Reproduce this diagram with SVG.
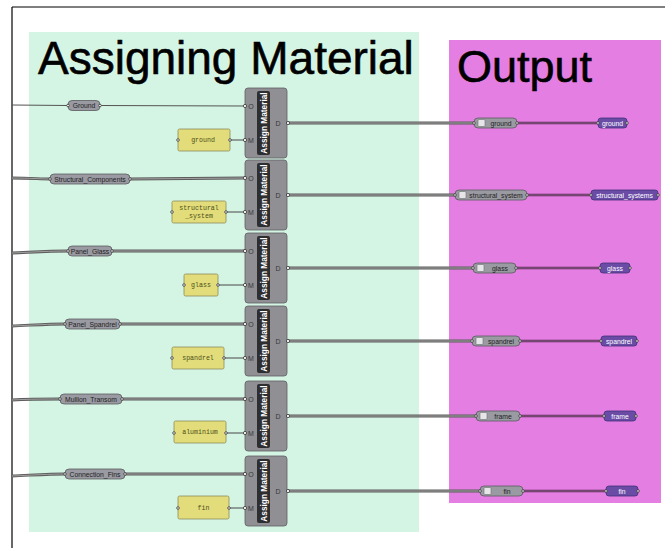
<svg xmlns="http://www.w3.org/2000/svg" width="665" height="548" viewBox="0 0 665 548">
<style>
.frame{stroke:#000;stroke-width:1.2;fill:none}
.title{font-family:"Liberation Sans",Arial,sans-serif;fill:#000;stroke:#000;stroke-width:0.6}
.comp{fill:#8f8f94;stroke:#5e5e62;stroke-width:0.8}
.strip{fill:#2e2e30}
.ctext{font-family:"Liberation Sans",Arial,sans-serif;font-size:8.3px;font-weight:bold;fill:#fff;text-anchor:middle}
.plabel{font-family:"Liberation Sans",Arial,sans-serif;font-size:7px;fill:#3a3a3a;text-anchor:middle}
.pill{fill:#9a9aa2;stroke:#5a5a60;stroke-width:0.8}
.ptext{font-family:"Liberation Sans",Arial,sans-serif;font-size:6.8px;fill:#1e1e1e;text-anchor:middle}
.panel{fill:#e2dd7a;stroke:#8e8c5a;stroke-width:0.8}
.ytext{font-family:"Liberation Mono","DejaVu Sans Mono",monospace;font-size:6.6px;fill:#4e4e1a;text-anchor:middle}
.purp{fill:#6a4ba6;stroke:#43307a;stroke-width:0.8}
.wtext{font-family:"Liberation Sans",Arial,sans-serif;font-size:6.8px;fill:#fff;text-anchor:middle}
.icon{fill:#e6e6e8;stroke:#707074;stroke-width:0.6}
.port{fill:#fff;stroke:#333;stroke-width:0.8}
.w1{fill:none;stroke:#555;stroke-width:1.1}
.wo{fill:none;stroke:#5c5c5c;stroke-width:2.8}
.wi{fill:none;stroke:#a8a8a8;stroke-width:0.9}
.po{fill:none;stroke:#5e2f5a;stroke-width:2.6}
.pi{fill:none;stroke:#9a6a96;stroke-width:0.8}
</style>
<defs>
<g id="amcomp">
<rect class="comp" x="245" y="0" width="42" height="70" rx="3"/>
<rect class="strip" x="257" y="3" width="13" height="64" rx="2"/>
<text class="ctext" transform="translate(266.5,35) rotate(-90)">Assign Material</text>
<text class="plabel" x="251" y="20.5">O</text>
<text class="plabel" x="251" y="54.5">M</text>
<text class="plabel" x="278" y="37.5">D</text>
<circle class="port" cx="245" cy="18" r="1.6"/>
<circle class="port" cx="245" cy="52" r="1.6"/>
<circle class="port" cx="288" cy="35" r="1.6"/>
</g>
</defs>
<rect x="29" y="32" width="390" height="500" fill="#d4f5e4"/>
<rect x="449" y="40" width="212" height="463" fill="#e47ee2"/>
<line class="frame" x1="12" y1="7" x2="665" y2="7"/>
<line class="frame" x1="12" y1="7" x2="12" y2="548"/>
<text class="title" x="38" y="74" font-size="46">Assigning Material</text>
<text class="title" x="457" y="82" font-size="45">Output</text>

<g id="connectors">
<!-- row 1 -->
<path class="w1" d="M12,105 L68,105.5"/>
<path class="w1" d="M100,105.5 L245,106"/>
<path class="w1" d="M230,140 L245,140"/>
<path class="wo" d="M288,123 L474,123"/><path class="wi" d="M288,123 L474,123"/>
<path class="po" d="M517,123 L598,123"/><path class="pi" d="M517,123 L598,123"/>
<!-- row 2 -->
<path class="wo" d="M12,178 C30,178 40,179 50,179"/><path class="wi" d="M12,178 C30,178 40,179 50,179"/>
<path class="wo" d="M130,179 L245,178"/><path class="wi" d="M130,179 L245,178"/>
<path class="w1" d="M226,212 L245,212"/>
<path class="wo" d="M288,195 L455,195"/><path class="wi" d="M288,195 L455,195"/>
<path class="po" d="M527,195 L591,195"/><path class="pi" d="M527,195 L591,195"/>
<!-- row 3 -->
<path class="wo" d="M12,253 C35,252 50,251 68,251"/><path class="wi" d="M12,253 C35,252 50,251 68,251"/>
<path class="wo" d="M112,251 L245,251"/><path class="wi" d="M112,251 L245,251"/>
<path class="w1" d="M218,285 L245,285"/>
<path class="wo" d="M288,268 L473,268"/><path class="wi" d="M288,268 L473,268"/>
<path class="po" d="M516,268 L600,268"/><path class="pi" d="M516,268 L600,268"/>
<!-- row 4 -->
<path class="wo" d="M12,326 C35,325 50,324 65,324"/><path class="wi" d="M12,326 C35,325 50,324 65,324"/>
<path class="wo" d="M120,324 L245,324"/><path class="wi" d="M120,324 L245,324"/>
<path class="w1" d="M224,358 L245,358"/>
<path class="wo" d="M288,341 L472,341"/><path class="wi" d="M288,341 L472,341"/>
<path class="po" d="M520,341 L601,341"/><path class="pi" d="M520,341 L601,341"/>
<!-- row 5 -->
<path class="wo" d="M12,400 C30,399 45,399 60,399"/><path class="wi" d="M12,400 C30,399 45,399 60,399"/>
<path class="wo" d="M122,399 L245,399"/><path class="wi" d="M122,399 L245,399"/>
<path class="w1" d="M226,433 L245,433"/>
<path class="wo" d="M288,416 L476,416"/><path class="wi" d="M288,416 L476,416"/>
<path class="po" d="M520,416 L604,416"/><path class="pi" d="M520,416 L604,416"/>
<!-- row 6 -->
<path class="wo" d="M12,476 C35,475 50,474 65,474"/><path class="wi" d="M12,476 C35,475 50,474 65,474"/>
<path class="wo" d="M125,474 L245,474"/><path class="wi" d="M125,474 L245,474"/>
<path class="w1" d="M229,508 L245,508"/>
<path class="wo" d="M288,491 L480,491"/><path class="wi" d="M288,491 L480,491"/>
<path class="po" d="M523,491 L606,491"/><path class="pi" d="M523,491 L606,491"/>
</g>

<!-- Row 1 -->
<g id="param-ground"><rect class="pill" x="68" y="100.5" width="32" height="10" rx="4"/><text class="ptext" x="84" y="108">Ground</text><circle class="port" cx="68" cy="105.5" r="1.3"/><circle class="port" cx="100" cy="105.5" r="1.3"/></g>
<g id="panel-ground"><rect class="panel" x="178" y="129" width="52" height="22" rx="1.5"/><text class="ytext" x="203" y="142">ground</text><circle class="port" cx="178" cy="140" r="1.3"/><circle class="port" cx="230" cy="140" r="1.3"/></g>
<g id="assign-1"><use href="#amcomp" transform="translate(0,88)"/></g>
<g id="out-ground"><rect class="pill" x="474" y="118" width="43" height="10" rx="4"/><rect class="icon" x="478" y="119.5" width="7" height="7" rx="1"/><text class="ptext" x="501" y="125.5">ground</text><circle class="port" cx="474" cy="123" r="1.3"/><circle class="port" cx="517" cy="123" r="1.3"/></g>
<g id="res-ground"><rect class="purp" x="598" y="118" width="29" height="10" rx="3"/><text class="wtext" x="612.5" y="125.5">ground</text><circle class="port" cx="598" cy="123" r="1.3"/><circle class="port" cx="627" cy="123" r="1.3"/></g>

<!-- Row 2 -->
<g id="param-structural"><rect class="pill" x="50" y="174" width="80" height="10" rx="4"/><text class="ptext" x="90" y="181.5">Structural_Components</text><circle class="port" cx="50" cy="179" r="1.3"/><circle class="port" cx="130" cy="179" r="1.3"/></g>
<g id="panel-structural"><rect class="panel" x="172" y="201" width="54" height="22" rx="1.5"/><text class="ytext" x="199" y="209.5">structural</text><text class="ytext" x="199" y="217.5">_system</text><circle class="port" cx="172" cy="212" r="1.3"/><circle class="port" cx="226" cy="212" r="1.3"/></g>
<g id="assign-2"><use href="#amcomp" transform="translate(0,160)"/></g>
<g id="out-structural"><rect class="pill" x="455" y="190" width="72" height="10" rx="4"/><rect class="icon" x="459" y="191.5" width="7" height="7" rx="1"/><text class="ptext" x="496" y="197.5">structural_system</text><circle class="port" cx="455" cy="195" r="1.3"/><circle class="port" cx="527" cy="195" r="1.3"/></g>
<g id="res-structural"><rect class="purp" x="591" y="190" width="67" height="10" rx="3"/><text class="wtext" x="624.5" y="197.5">structural_systems</text><circle class="port" cx="591" cy="195" r="1.3"/><circle class="port" cx="658" cy="195" r="1.3"/></g>

<!-- Row 3 -->
<g id="param-glass"><rect class="pill" x="68" y="246" width="44" height="10" rx="4"/><text class="ptext" x="90" y="253.5">Panel_Glass</text><circle class="port" cx="68" cy="251" r="1.3"/><circle class="port" cx="112" cy="251" r="1.3"/></g>
<g id="panel-glass"><rect class="panel" x="184" y="274" width="34" height="22" rx="1.5"/><text class="ytext" x="201" y="287">glass</text><circle class="port" cx="184" cy="285" r="1.3"/><circle class="port" cx="218" cy="285" r="1.3"/></g>
<g id="assign-3"><use href="#amcomp" transform="translate(0,233)"/></g>
<g id="out-glass"><rect class="pill" x="473" y="263" width="43" height="10" rx="4"/><rect class="icon" x="477" y="264.5" width="7" height="7" rx="1"/><text class="ptext" x="500" y="270.5">glass</text><circle class="port" cx="473" cy="268" r="1.3"/><circle class="port" cx="516" cy="268" r="1.3"/></g>
<g id="res-glass"><rect class="purp" x="600" y="263" width="30" height="10" rx="3"/><text class="wtext" x="615" y="270.5">glass</text><circle class="port" cx="600" cy="268" r="1.3"/><circle class="port" cx="630" cy="268" r="1.3"/></g>

<!-- Row 4 -->
<g id="param-spandrel"><rect class="pill" x="65" y="319" width="55" height="10" rx="4"/><text class="ptext" x="92.5" y="326.5">Panel_Spandrel</text><circle class="port" cx="65" cy="324" r="1.3"/><circle class="port" cx="120" cy="324" r="1.3"/></g>
<g id="panel-spandrel"><rect class="panel" x="172" y="347" width="52" height="22" rx="1.5"/><text class="ytext" x="198" y="360">spandrel</text><circle class="port" cx="172" cy="358" r="1.3"/><circle class="port" cx="224" cy="358" r="1.3"/></g>
<g id="assign-4"><use href="#amcomp" transform="translate(0,306)"/></g>
<g id="out-spandrel"><rect class="pill" x="472" y="336" width="48" height="10" rx="4"/><rect class="icon" x="476" y="337.5" width="7" height="7" rx="1"/><text class="ptext" x="501" y="343.5">spandrel</text><circle class="port" cx="472" cy="341" r="1.3"/><circle class="port" cx="520" cy="341" r="1.3"/></g>
<g id="res-spandrel"><rect class="purp" x="601" y="336" width="36" height="10" rx="3"/><text class="wtext" x="619" y="343.5">spandrel</text><circle class="port" cx="601" cy="341" r="1.3"/><circle class="port" cx="637" cy="341" r="1.3"/></g>

<!-- Row 5 -->
<g id="param-mullion"><rect class="pill" x="60" y="394" width="62" height="10" rx="4"/><text class="ptext" x="91" y="401.5">Mullion_Transom</text><circle class="port" cx="60" cy="399" r="1.3"/><circle class="port" cx="122" cy="399" r="1.3"/></g>
<g id="panel-aluminium"><rect class="panel" x="174" y="421" width="52" height="22" rx="1.5"/><text class="ytext" x="200" y="434">aluminium</text><circle class="port" cx="174" cy="433" r="1.3"/><circle class="port" cx="226" cy="433" r="1.3"/></g>
<g id="assign-5"><use href="#amcomp" transform="translate(0,381)"/></g>
<g id="out-frame"><rect class="pill" x="476" y="411" width="44" height="10" rx="4"/><rect class="icon" x="480" y="412.5" width="7" height="7" rx="1"/><text class="ptext" x="503" y="418.5">frame</text><circle class="port" cx="476" cy="416" r="1.3"/><circle class="port" cx="520" cy="416" r="1.3"/></g>
<g id="res-frame"><rect class="purp" x="604" y="411" width="32" height="10" rx="3"/><text class="wtext" x="620" y="418.5">frame</text><circle class="port" cx="604" cy="416" r="1.3"/><circle class="port" cx="636" cy="416" r="1.3"/></g>

<!-- Row 6 -->
<g id="param-fins"><rect class="pill" x="65" y="469" width="60" height="10" rx="4"/><text class="ptext" x="95" y="476.5">Connection_Fins</text><circle class="port" cx="65" cy="474" r="1.3"/><circle class="port" cx="125" cy="474" r="1.3"/></g>
<g id="panel-fin"><rect class="panel" x="178" y="496" width="51" height="23" rx="1.5"/><text class="ytext" x="203.5" y="510">fin</text><circle class="port" cx="178" cy="508" r="1.3"/><circle class="port" cx="229" cy="508" r="1.3"/></g>
<g id="assign-6"><use href="#amcomp" transform="translate(0,456)"/></g>
<g id="out-fin"><rect class="pill" x="480" y="486" width="43" height="10" rx="4"/><rect class="icon" x="484" y="487.5" width="7" height="7" rx="1"/><text class="ptext" x="507" y="493.5">fin</text><circle class="port" cx="480" cy="491" r="1.3"/><circle class="port" cx="523" cy="491" r="1.3"/></g>
<g id="res-fin"><rect class="purp" x="606" y="486" width="32" height="10" rx="3"/><text class="wtext" x="622" y="493.5">fin</text><circle class="port" cx="606" cy="491" r="1.3"/><circle class="port" cx="638" cy="491" r="1.3"/></g>
</svg>
